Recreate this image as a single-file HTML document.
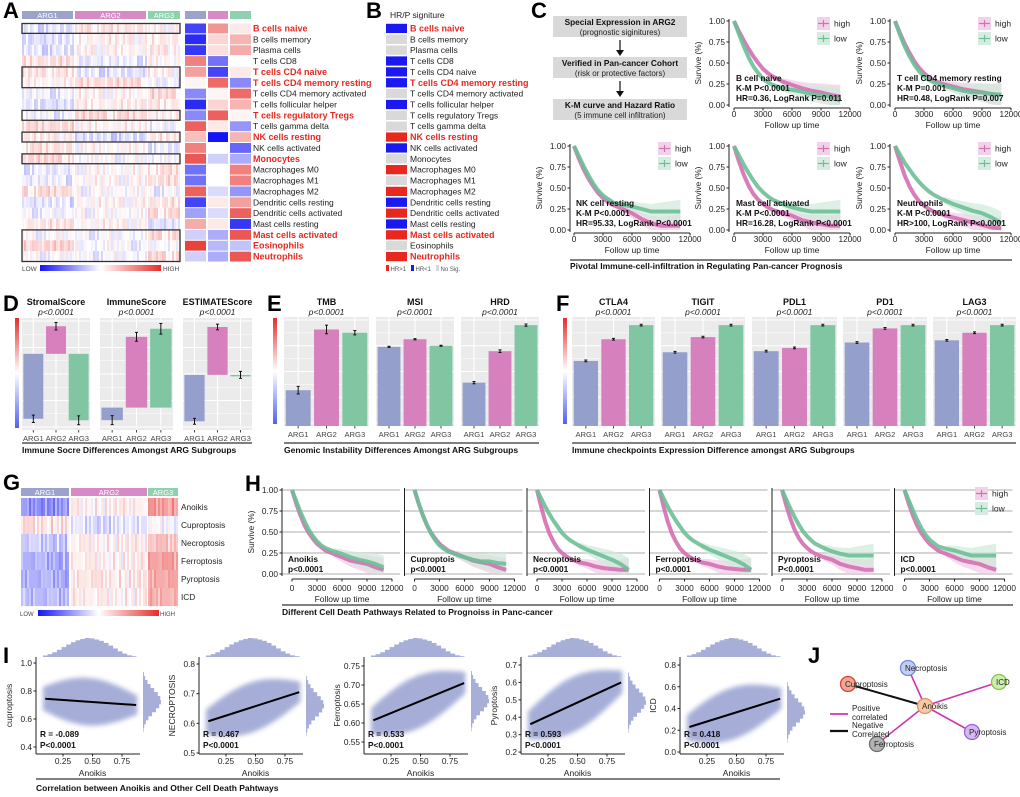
<!DOCTYPE html>
<html><head><meta charset="utf-8">
<style>
body{margin:0;background:#fff;width:1020px;height:797px;overflow:hidden}
svg{font-family:"Liberation Sans",sans-serif;display:block}
</style></head>
<body>
<svg id="fig" width="1020" height="797" viewBox="0 0 1020 797">
<defs>
<linearGradient id="hgrad" x1="0" x2="1" y1="0" y2="0"><stop offset="0" stop-color="#1414f5"/><stop offset="0.5" stop-color="#ffffff"/><stop offset="1" stop-color="#e62d28"/></linearGradient>
<linearGradient id="vgrad" x1="0" x2="0" y1="0" y2="1"><stop offset="0" stop-color="#e62d28"/><stop offset="0.5" stop-color="#ffffff"/><stop offset="1" stop-color="#5060f0"/></linearGradient>
<filter id="blur" x="-20%" y="-20%" width="140%" height="140%"><feGaussianBlur stdDeviation="2.5"/></filter>
</defs>
</svg>
<script>
// ---------- DATA ----------
const immuneCells=["B cells naive","B cells memory","Plasma cells","T cells CD8","T cells CD4 naive","T cells CD4 memory resting","T cells CD4 memory activated","T cells follicular helper","T cells regulatory Tregs","T cells gamma delta","NK cells resting","NK cells activated","Monocytes","Macrophages M0","Macrophages M1","Macrophages M2","Dendritic cells resting","Dendritic cells activated","Mast cells resting","Mast cells activated","Eosinophils","Neutrophils"];
const redLabelsA=[1,0,0,0,1,1,0,0,1,0,1,0,1,0,0,0,0,0,0,1,1,1];
const redLabelsB=[1,0,0,0,0,1,0,0,0,0,1,0,0,0,0,0,0,0,0,1,0,1];
const miniARG1=[-0.8,-0.9,-0.85,0.6,0.45,0.05,-0.5,-0.9,-0.5,0.75,0.3,0.6,0.8,-0.6,-0.6,0.75,-0.8,-0.4,0.4,-0.2,0.9,-0.2];
const miniARG2=[0.5,0.2,0.15,-0.6,-0.8,0.7,0.05,0.2,0.75,0.1,-1,0,-0.2,0,0,-0.15,0.1,-0.15,0.1,-0.35,-0.3,-0.35];
const miniARG3=[0.1,0.35,0.4,0,0.1,-0.5,0.7,0.35,0.05,-0.45,0.35,-0.65,-0.35,0.6,0.6,-0.45,0.45,0.75,-0.85,0.8,-0.25,0.8];
const hrSig=["b","n","n","b","b","b","n","b","n","n","r","b","n","r","n","r","b","r","b","r","n","r"];
const boxedRows=[[0,0],[4,5],[8,8],[10,10],[12,12],[19,21]];
const texture=[0.3,-0.2,0.5,0.1,-0.4,0.2,0.6,-0.1,0.0,0.4,-0.3,0.2,0.7,-0.2,0.1,0.3,-0.5,0.2,0.4,0.0,-0.1,0.5,0.2,-0.3,0.3,0.1,-0.2,0.6,0.0,0.2,-0.4,0.3,0.1,0.5,-0.1,0.2,0.0,0.4,-0.2,0.3];
const argCats=["ARG1","ARG2","ARG3"];
const dTitles=["StromalScore","ImmuneScore","ESTIMATEScore"];
const stromalValues=[-0.85,0.39,-0.87];
const immuneValues=[-0.14,0.79,0.88];
const estimateValues=[-0.78,0.845,0.02];
const dErrors=[0.05,0.05,0.06];
const eTitles=["TMB","MSI","HRD"];
const tmbValues=[0.33,0.89,0.86];
const msiValues=[0.73,0.80,0.74];
const hrdValues=[0.40,0.69,0.93];
const fTitles=["CTLA4","TIGIT","PDL1","PD1","LAG3"];
const ctla4Values=[0.60,0.80,0.93];
const tigitValues=[0.68,0.82,0.93];
const pdl1Values=[0.69,0.72,0.93];
const pd1Values=[0.77,0.90,0.93];
const lag3Values=[0.79,0.86,0.93];
const gPathways=["Anoikis","Cuproptosis","Necroptosis","Ferroptosis","Pyroptosis","ICD"];
const gARG1=[-0.6,0.15,-0.3,-0.45,-0.45,-0.4];
const gARG2=[0.05,-0.2,0.05,0.05,0.1,0.05];
const gARG3=[0.55,-0.05,0.3,0.5,0.45,0.4];
const kmTimes=[0,500,1000,1500,2000,2500,3000,3500,4000,5000,6000,7000,8000,9000,10000,11000];
const kmBnaiveHigh=[1,0.88,0.77,0.67,0.58,0.50,0.43,0.38,0.34,0.28,0.24,0.20,0.17,0.15,0.12,0.10];
const kmBnaiveLow=[1,0.85,0.70,0.57,0.46,0.38,0.31,0.27,0.24,0.20,0.18,0.16,0.13,0.12,0.10,0.05];
const kmCD4High=[1,0.86,0.73,0.62,0.52,0.44,0.38,0.33,0.29,0.25,0.22,0.19,0.17,0.15,0.13,0.12];
const kmCD4Low=[1,0.84,0.70,0.58,0.48,0.40,0.34,0.30,0.27,0.23,0.20,0.17,0.15,0.15,0.13,0.12];
const kmNKHigh=[1,0.85,0.72,0.61,0.52,0.44,0.38,0.33,0.30,0.25,0.20,0.13,0.08,0.05,0.05,0.05];
const kmNKLow=[1,0.88,0.76,0.65,0.55,0.47,0.41,0.37,0.33,0.30,0.28,0.25,0.22,0.22,0.22,0.22];
const kmMastHigh=[1,0.82,0.66,0.53,0.43,0.36,0.31,0.27,0.24,0.20,0.17,0.12,0.09,0.07,0.05,0.05];
const kmMastLow=[1,0.89,0.78,0.68,0.59,0.51,0.45,0.40,0.36,0.31,0.27,0.24,0.22,0.22,0.22,0.22];
const kmNeuHigh=[1,0.82,0.65,0.52,0.42,0.34,0.29,0.25,0.22,0.18,0.15,0.12,0.09,0.06,0.03,0.02];
const kmNeuLow=[1,0.90,0.80,0.72,0.64,0.57,0.51,0.46,0.42,0.36,0.31,0.27,0.23,0.20,0.15,0.08];
const kmSmallHigh=[1,0.84,0.70,0.58,0.49,0.42,0.36,0.32,0.28,0.24,0.20,0.16,0.14,0.12,0.08,0.05];
const kmSmallLow=[1,0.87,0.74,0.63,0.53,0.45,0.39,0.34,0.31,0.27,0.24,0.20,0.17,0.15,0.12,0.08];
const kmBigHigh=[1,0.80,0.62,0.48,0.38,0.30,0.25,0.21,0.18,0.14,0.12,0.09,0.07,0.06,0.05,0.05];
const kmBigLow=[1,0.90,0.80,0.71,0.63,0.56,0.49,0.44,0.40,0.34,0.29,0.25,0.21,0.17,0.12,0.05];
const hTitles=["Anoikis","Cuproptois","Necroptosis","Ferroptosis","Pyroptosis","ICD"];
const hPvals=["p<0.0001","p<0.0001","p<0.0001","p<0.0001","P<0.0001","p<0.0001"];
const scatterYLabels=["cuproptosis","NECROPTOSIS","Ferroptosis","Pyroptosis","ICD"];
const scatterR=["R = -0.089","R = 0.467","R = 0.533","R = 0.593","R = 0.418"];
const regStart=[0.745,0.607,0.607,0.36,0.23];
const regEnd=[0.70,0.705,0.705,0.60,0.49];
const cloudSpread=[0.17,0.085,0.07,0.16,0.24];
const yTicks1=[0.4,0.6,0.8,1.0];
const yTicks2=[0.5,0.6,0.7,0.8];
const yTicks3=[0.55,0.60,0.65,0.70,0.75];
const yTicks4=[0.2,0.3,0.4,0.5,0.6,0.7];
const yTicks5=[0.0,0.2,0.4,0.6,0.8];
const xTicksI=[0.25,0.5,0.75];
const topHist=[0.08,0.15,0.25,0.38,0.52,0.66,0.78,0.88,0.95,1.0,0.98,0.92,0.85,0.74,0.6,0.45,0.3,0.18,0.09,0.04];
const rightHist=[0.05,0.12,0.25,0.42,0.62,0.82,0.96,1.0,0.9,0.72,0.5,0.3,0.16,0.07,0.03];
const netNodes=["Necroptosis","ICD","Cuproptosis","Anoikis","Pyroptosis","Ferroptosis"];
const netEdgeSign=[1,1,-1,1,1];

// ---------- HELPERS ----------
const NS="http://www.w3.org/2000/svg";
const S=document.getElementById("fig");
function E(tag,p,a){const e=document.createElementNS(NS,tag);for(const k in a)e.setAttribute(k,a[k]);p.appendChild(e);return e;}
function T(p,x,y,s,size,a){const e=E("text",p,Object.assign({x:x,y:y,"font-size":size,fill:"#111"},a||{}));e.textContent=s;return e;}
function hcol(v){v=Math.max(-1,Math.min(1,v));let r,g,b;if(v>=0){r=255-25*v;g=255-210*v;b=255-215*v;}else{const t=-v;r=255-235*t;g=255-235*t;b=255-10*t;}return"rgb("+(r|0)+","+(g|0)+","+(b|0)+")";}
const C1="#959fcb",C2="#d680bd",C3="#80c6a2";
const H1="#9ba3cd",H2="#d68bc6",H3="#8fd0ae";
const PINK="#d46fb3",GREEN="#6dbf97";
function letter(x,y,s){const t=T(S,x,y,s,22,{"font-weight":"bold",fill:"#000"});}

// ---------- PANEL A ----------
const gA=E("g",S,{});


letter(3,18,"A");
const rowH=(262-23)/22;
const groupsA=[[22,73,miniARG1,H1,"ARG1"],[75,146,miniARG2,H2,"ARG2"],[148,180,miniARG3,H3,"ARG3"]];
groupsA.forEach((g,gi)=>{
  const hr=E("rect",gA,{x:g[0],y:11,width:g[1]-g[0],height:8,fill:g[3]});
  
  
  T(gA,(g[0]+g[1])/2,18,g[4],7.5,{fill:"#fff","text-anchor":"middle"});
  for(let r=0;r<22;r++){
    for(let x=g[0],c=0;x<g[1];x+=2,c++){
      const v=g[2][r]*0.18+texture[(c*7+r*13)%40]*0.28;
      E("rect",gA,{x:x,y:23+r*rowH,width:2.05,height:rowH+0.1,fill:hcol(v)});
    }
  }
});
boxedRows.forEach(b=>{
  const bx=E("rect",gA,{x:22,y:23+b[0]*rowH+0.5,width:158,height:(b[1]-b[0]+1)*rowH-1,fill:"none",stroke:"#333","stroke-width":1.3});
  
  
});
const miniX=[185,208,230],miniW=[21,20,21],miniH=[H1,H2,H3],miniData=[miniARG1,miniARG2,miniARG3];
for(let k=0;k<3;k++){
  E("rect",gA,{x:miniX[k],y:11,width:miniW[k],height:8,fill:miniH[k]});
  for(let r=0;r<22;r++){
    const c=E("rect",gA,{x:miniX[k],y:23.5+r*rowH,width:miniW[k],height:rowH-1,fill:hcol(miniData[k][r])});
    
    
  }
}
immuneCells.forEach((n,r)=>{
  const t=T(gA,253,23+rowH*(r+0.5)+3,n,8.5,redLabelsA[r]?{fill:"#e8281e","font-weight":"bold","font-size":9}:{fill:"#222"});
  
  
});
T(gA,22,271,"LOW",6.5,{fill:"#444"});
E("rect",gA,{x:40,y:265,width:121,height:6,fill:"url(#hgrad)"});
T(gA,163,271,"HIGH",6.5,{fill:"#444"});

// ---------- PANEL B ----------
const gB=E("g",S,{});


letter(366,18,"B");
T(gB,390,18,"HR/P signiture",8.5,{fill:"#222"});
const sigCol={r:"#e8281e",b:"#1a1af0",n:"#d9d9d9"};
hrSig.forEach((s,r)=>{
  const q=E("rect",gB,{x:386,y:23.8+r*rowH,width:21,height:rowH-1.6,fill:sigCol[s]});
  
  
  T(gB,410,23+rowH*(r+0.5)+3,immuneCells[r],8.5,redLabelsB[r]?{fill:"#e8281e","font-weight":"bold","font-size":9}:{fill:"#222"});
});
[["#e8281e","HR>1",386],["#1a1af0","HR<1",411],["#d9d9d9","No Sig.",436]].forEach(l=>{
  E("rect",gB,{x:l[2],y:265,width:3,height:6,fill:l[0]});T(gB,l[2]+4.5,271,l[1],6,{fill:"#555"});
});

// ---------- PANEL C ----------
const gC=E("g",S,{});


letter(531,18,"C");
[[16,"Special Expression in ARG2","(prognostic siginitures)"],[57,"Verified in Pan-cancer Cohort","(risk or protective factors)"],[99,"K-M curve and Hazard Ratio","(5 immune cell infiltration)"]].forEach((b,i)=>{
  const r=E("rect",gC,{x:553,y:b[0],width:134,height:21,fill:"#d9d9d9"});
  
  
  T(gC,620,b[0]+9,b[1],8.3,{"text-anchor":"middle","font-weight":"bold"});
  T(gC,620,b[0]+19,b[2],8,{"text-anchor":"middle",fill:"#222"});
  if(i<2){E("line",gC,{x1:620,y1:b[0]+24,x2:620,y2:b[0]+36,stroke:"#111","stroke-width":1.2});E("path",gC,{d:`M616,${b[0]+34} L620,${b[0]+40} L624,${b[0]+34}Z`,fill:"#111"});}
});

function kmPlot(parent,ax,x0,x1,top,bot,high,low,texts,opts){
  const X=t=>x0+t/12000*(x1-x0), Y=v=>bot-v*(bot-top);
  const g=E("g",parent,{});
  
  
  if(opts.grid){[0,0.25,0.5,0.75,1].forEach(v=>E("line",g,{x1:ax,x2:opts.gridEnd,y1:Y(v),y2:Y(v),stroke:"#d6d6d6","stroke-width":2}));}
  [[high,PINK,"#f2c9e4"],[low,GREEN,"#cfe9dc"]].forEach(s=>{
    const up=[],dn=[];
    kmTimes.forEach((t,i)=>{if(t>=5000){const w=0.04+(t-5000)/60000;up.push([X(t),Y(Math.min(1,s[0][i]+w))]);dn.push([X(t),Y(Math.max(0,s[0][i]-w))]);}});
    const band="M"+up.map(p=>p.join(",")).join(" L")+" L"+dn.reverse().map(p=>p.join(",")).join(" L")+"Z";
    E("path",g,{d:band,fill:s[2],opacity:0.7});
  });
  [[high,PINK,"high"],[low,GREEN,"low"]].forEach(s=>{
    let d="M"+X(0)+","+Y(s[0][0]);
    for(let i=1;i<kmTimes.length;i++){d+=" L"+X(kmTimes[i])+","+Y(s[0][i]);}
    const thick=E("path",g,{d:d,fill:"none",stroke:s[1],"stroke-width":4,"stroke-linejoin":"round",opacity:0.9});
    
    
  });
  E("line",g,{x1:ax,x2:ax,y1:top-2,y2:bot+2,stroke:"#222","stroke-width":1});
  E("line",g,{x1:x0,x2:x1,y1:bot+(opts.axGap||4),y2:bot+(opts.axGap||4),stroke:"#222","stroke-width":1});
  [0,3000,6000,9000,12000].forEach(t=>{E("line",g,{x1:X(t),x2:X(t),y1:bot+(opts.axGap||4),y2:bot+(opts.axGap||4)+2.5,stroke:"#222"});T(g,X(t),bot+(opts.tickDy||13),String(t),8.3,{"text-anchor":"middle",fill:"#222"});});
  T(g,(x0+x1)/2,bot+(opts.titleDy||24),"Follow up time",8.5,{"text-anchor":"middle",fill:"#222"});
  if(opts.yticks){[0,0.25,0.5,0.75,1].forEach(v=>{E("line",g,{x1:ax-2.5,x2:ax,y1:Y(v),y2:Y(v),stroke:"#222"});T(g,ax-4,Y(v)+3,v.toFixed(2),8.3,{"text-anchor":"end",fill:"#222"});});
    T(g,0,0,"Survive (%)",8.3,{"text-anchor":"middle",fill:"#222",transform:`translate(${ax-28},${(top+bot)/2}) rotate(-90)`});}
  texts.forEach((s,i)=>T(g,opts.textX||x0+2,opts.textY+i*10,s,8.3,{"font-weight":"bold"}));
  if(opts.legend){const lx=opts.legendX,ly=opts.legendY;
    [[PINK,"#f2d2e8","high"],[GREEN,"#d6ece0","low"]].forEach((l,i)=>{
      E("rect",g,{x:lx,y:ly+i*15,width:13,height:13,fill:l[1]});
      E("line",g,{x1:lx+1,x2:lx+12,y1:ly+i*15+6.5,y2:ly+i*15+6.5,stroke:l[0],"stroke-width":1.2});
      E("line",g,{x1:lx+6.5,x2:lx+6.5,y1:ly+i*15+3,y2:ly+i*15+10,stroke:l[0],"stroke-width":1.2});
      const lt=T(g,lx+17,ly+i*15+9.5,l[2],8.5,{fill:"#222"});
      
      
    });}
}
const cPlots=[
 [729,734,850,21,105,kmBnaiveHigh,kmBnaiveLow,["B cell naive","K-M P<0.0001","HR=0.36, LogRank P=0.011"]],
 [890,895,1011,21,105,kmCD4High,kmCD4Low,["T cell CD4 memory resting","K-M P=0.001","HR=0.48, LogRank P=0.007"]],
 [570,574,690,146,230,kmNKHigh,kmNKLow,["NK cell resting","K-M P<0.0001","HR=95.33, LogRank P<0.0001"]],
 [729,734,850,146,230,kmMastHigh,kmMastLow,["Mast cell activated","K-M P<0.0001","HR=16.28, LogRank P<0.0001"]],
 [890,895,1011,146,230,kmNeuHigh,kmNeuLow,["Neutrophils","K-M P<0.0001","HR>100, LogRank P<0.0001"]]];
cPlots.forEach(p=>kmPlot(gC,p[0],p[1],p[2],p[3],p[4],p[5],p[6],p[7],{yticks:true,textY:p[3]+60,legend:true,legendX:p[0]+88,legendY:p[3]-4,axGap:3,tickDy:12,titleDy:23}));
E("line",gC,{x1:570,x2:1012,y1:260,y2:260,stroke:"#555","stroke-width":1.5});
T(gC,570,269,"Pivotal Immune-cell-infiltration in Regulating Pan-cancer Prognosis",8.5,{"font-weight":"bold"});

// ---------- D / E / F BAR PANELS ----------
function barPlot(parent,x0,x1,top,bot,lo,hi,vals,errs,title,base,gridN){
  const g=E("g",parent,{});
  
  
  const Y=v=>bot-(v-lo)/(hi-lo)*(bot-top);
  E("rect",g,{x:x0,y:top,width:x1-x0,height:bot-top,fill:"#ebebeb"});
  for(let i=0;i<=gridN;i++){const y=top+3+i*(bot-top-6)/gridN;E("line",g,{x1:x0,x2:x1,y1:y,y2:y,stroke:"#fff","stroke-width":i%2?0.6:1.1});}
  const sw=(x1-x0)/3;
  T(g,(x0+x1)/2,305,title,9,{"text-anchor":"middle","font-weight":"bold"});
  T(g,(x0+x1)/2,315,"p<0.0001",8.5,{"text-anchor":"middle","font-style":"italic",fill:"#222"});
  vals.forEach((v,i)=>{
    const cx=x0+sw*(i+0.5);
    E("line",g,{x1:cx,x2:cx,y1:top,y2:bot,stroke:"#fff","stroke-width":1.1});
    const yb=Y(base),yv=Y(v);
    const bar=E("rect",g,{x:cx-sw*0.44,y:Math.min(yb,yv),width:sw*0.88,height:Math.max(1.5,Math.abs(yb-yv)),fill:[C1,C2,C3][i]});
    
    
    const e=errs[i];
    E("path",g,{d:`M${cx},${Y(v+e)} V${Y(v-e)} M${cx-1.5},${Y(v+e)} H${cx+1.5} M${cx-1.5},${Y(v-e)} H${cx+1.5}`,stroke:"#111","stroke-width":1,fill:"none"});
    E("line",g,{x1:cx,x2:cx,y1:bot,y2:bot+2.5,stroke:"#444"});
    T(g,cx,bot+11,argCats[i],7.6,{"text-anchor":"middle",fill:"#444"});
  });
}
const gD=E("g",S,{});


letter(3,311,"D");
E("rect",gD,{x:15,y:318,width:4,height:110,fill:"url(#vgrad)"});
barPlot(gD,22,90,318,430,-1,0.5,stromalValues,dErrors,dTitles[0],0.02,8);
barPlot(gD,100,173,318,430,-0.25,1,immuneValues,dErrors,dTitles[1],0,8);
barPlot(gD,183,252,318,430,-0.93,1,estimateValues,dErrors,dTitles[2],0.02,8);
E("line",gD,{x1:22,x2:252,y1:443,y2:443,stroke:"#555","stroke-width":1.5});
T(gD,22,453,"Immune Socre Differences Amongst ARG Subgroups",8.5,{"font-weight":"bold"});

const gE=E("g",S,{});


letter(267,311,"E");
E("rect",gE,{x:273,y:318,width:4,height:106,fill:"url(#vgrad)"});
barPlot(gE,284,369,317,426,0,1.005,tmbValues,[0.035,0.04,0.02],eTitles[0],0,8);
barPlot(gE,376,454,317,426,0,1.005,msiValues,[0.005,0.006,0.005],eTitles[1],0,8);
barPlot(gE,461,539,317,426,0,1.005,hrdValues,[0.01,0.012,0.01],eTitles[2],0,8);
E("line",gE,{x1:284,x2:539,y1:443,y2:443,stroke:"#555","stroke-width":1.5});
T(gE,284,453,"Genomic Instability Differences Amongst ARG Subgroups",8.5,{"font-weight":"bold"});

const gF=E("g",S,{});


letter(556,311,"F");
E("rect",gF,{x:563,y:318,width:4,height:106,fill:"url(#vgrad)"});
const fVals=[ctla4Values,tigitValues,pdl1Values,pd1Values,lag3Values];
[[572,655],[661,745],[752,837],[843,927],[933,1016]].forEach((r,i)=>barPlot(gF,r[0],r[1],317,426,0,1.005,fVals[i],[0.008,0.008,0.008],fTitles[i],0,8));
E("line",gF,{x1:572,x2:1016,y1:443,y2:443,stroke:"#555","stroke-width":1.5});
T(gF,572,453,"Immune checkpoints Expression Difference amongst ARG Subgroups",8.5,{"font-weight":"bold"});

// ---------- PANEL G ----------
const gG=E("g",S,{});


letter(3,490,"G");
const gRowH=18;
[[21,69,gARG1,H1,"ARG1"],[71,147,gARG2,H2,"ARG2"],[148,178,gARG3,H3,"ARG3"]].forEach(g=>{
  E("rect",gG,{x:g[0],y:488,width:g[1]-g[0],height:8,fill:g[3]});
  T(gG,(g[0]+g[1])/2,495,g[4],7.5,{fill:"#fff","text-anchor":"middle"});
  for(let r=0;r<6;r++){
    for(let x=g[0],c=0;x<g[1];x+=2,c++){
      const v=g[2][r]*0.8+texture[(c*11+r*7)%40]*0.3;
      E("rect",gG,{x:x,y:498+r*gRowH,width:2.05,height:gRowH+0.1,fill:hcol(v)});
    }
  }
});
gPathways.forEach((n,r)=>{const t=T(gG,181,498+gRowH*(r+0.5)+3,n,8.3,{fill:"#222"});});
T(gG,20,616,"LOW",6,{fill:"#444"});
E("rect",gG,{x:38,y:610,width:121,height:6,fill:"url(#hgrad)"});
T(gG,160,616,"HIGH",6,{fill:"#444"});

// ---------- PANEL H ----------
const gH=E("g",S,{});


letter(245,491,"H");
const hHigh=[kmSmallHigh,kmSmallHigh,kmBigHigh,kmBigHigh,kmMastHigh,kmSmallHigh];
const hLow=[kmSmallLow,kmCD4Low,kmBigLow,kmBigLow,kmMastLow,kmNKLow];
hTitles.forEach((t,i)=>{
  const ax=282+122.5*i;
  kmPlot(gH,ax,ax+10,ax+110,490,574,hHigh[i],hLow[i],[t,hPvals[i]],{grid:true,gridEnd:ax+118,yticks:i===0,textX:ax+6,textY:562,legend:i===5,legendX:975,legendY:487,axGap:5,tickDy:17,titleDy:28});
});
E("line",gH,{x1:282,x2:1013,y1:605,y2:605,stroke:"#555","stroke-width":1.5});
T(gH,282,615,"Different Cell Death Pathways Related to Prognoiss in Panc-cancer",8.5,{"font-weight":"bold"});

// ---------- PANEL I ----------
const gI=E("g",S,{});


letter(3,663,"I");
const yTickSets=[yTicks1,yTicks2,yTicks3,yTicks4,yTicks5];
const yDom=[[0.35,1.043],[0.4966,0.8236],[0.5184,0.7737],[0.189,0.746],[-0.0184,0.8736]];
const tickFmt=[1,1,2,1,1];
scatterYLabels.forEach((lab,i)=>{
  const ax=[36,199,364,521,680][i],top=657,bot=754;
  const X=v=>ax+27+(v-0.25)*118, Y=v=>bot-(v-yDom[i][0])/(yDom[i][1]-yDom[i][0])*(bot-top);
  const g=E("g",gI,{});
  
  
  const line=x=>regStart[i]+(regEnd[i]-regStart[i])*(x-0.1)/0.77;
  const sp=cloudSpread[i];
  const up=[],dn=[];
  for(let k=0;k<=20;k++){const x=0.08+k*0.04;const taper=Math.sin(Math.PI*Math.min(1,(k+1)/21))*0.6+0.4;up.push(X(x)+","+Y(line(x)+sp*taper));dn.push(X(x)+","+Y(line(x)-sp*taper));}
  const cloud=E("path",g,{d:"M"+up.join(" L")+" L"+dn.reverse().join(" L")+"Z",fill:"#a2aad6",opacity:0.95,filter:"url(#blur)"});
  
  
  const reg=E("line",g,{x1:X(0.1),y1:Y(regStart[i]),x2:X(0.87),y2:Y(regEnd[i]),stroke:"#000","stroke-width":2});
  
  
  E("line",g,{x1:ax,x2:ax,y1:top,y2:bot,stroke:"#222"});
  E("line",g,{x1:ax,x2:ax+104,y1:bot,y2:bot,stroke:"#222"});
  yTickSets[i].forEach(v=>{E("line",g,{x1:ax-2.5,x2:ax,y1:Y(v),y2:Y(v),stroke:"#222"});T(g,ax-4,Y(v)+3,v.toFixed(tickFmt[i]),8.3,{"text-anchor":"end",fill:"#222"});});
  xTicksI.forEach(v=>{E("line",g,{x1:X(v),x2:X(v),y1:bot,y2:bot+2.5,stroke:"#222"});T(g,X(v),bot+10,v.toFixed(2),8.3,{"text-anchor":"middle",fill:"#222"});});
  T(g,X(0.5),bot+22,"Anoikis",8.5,{"text-anchor":"middle",fill:"#222"});
  T(g,0,0,lab,8.5,{"text-anchor":"middle",fill:"#222",transform:`translate(${ax-24},${(top+bot)/2}) rotate(-90)`});
  T(g,ax+4,737,scatterR[i],8.3,{"font-weight":"bold"});
  T(g,ax+4,748,"P<0.0001",8.3,{"font-weight":"bold"});
  const bw=(X(0.87)-X(0.08))/topHist.length;
  topHist.forEach((h,k)=>{const b=E("rect",g,{x:X(0.08)+k*bw,y:657-h*19,width:bw+0.3,height:h*19,fill:"#a7afd8"});});
  const mid=Y(line(0.5)),hh=4;
  rightHist.forEach((h,k)=>{const b=E("rect",g,{x:ax+107,y:mid-rightHist.length*hh/2+k*hh,width:h*18,height:hh+0.3,fill:"#a7afd8"});});
});
E("line",gI,{x1:36,x2:780,y1:779,y2:779,stroke:"#555","stroke-width":1.5});
T(gI,36,791,"Correlation between Anoikis and Other Cell Death Pahtways",8.5,{"font-weight":"bold"});

// ---------- PANEL J ----------
const gJ=E("g",S,{});


letter(808,663,"J");
const nodePos=[[908,668],[999,682],[848,684],[925,706],[972,732],[877,744]];
const nodeFill=["#c2cff2","#cdeeb0","#f2a596","#f7caa4","#d8b8f2","#b4b4b4"];
const nodeStroke=["#6d8ad6","#86c24f","#d4432f","#e09464","#9565d3","#6e6e6e"];
const edgeFrom=[0,1,2,4,5];
edgeFrom.forEach((n,k)=>{
  const ed=E("line",gJ,{x1:nodePos[n][0],y1:nodePos[n][1],x2:nodePos[3][0],y2:nodePos[3][1],stroke:netEdgeSign[k]>0?"#cf35b0":"#111","stroke-width":netEdgeSign[k]>0?1.6:2});
  
  
});
netNodes.forEach((n,k)=>{
  const c=E("circle",gJ,{cx:nodePos[k][0],cy:nodePos[k][1],r:7.5,fill:nodeFill[k],stroke:nodeStroke[k],"stroke-width":1.3});
  
  
  T(gJ,nodePos[k][0]-3,nodePos[k][1]+3,n,8,{fill:"#222"});
});
E("line",gJ,{x1:830,x2:848,y1:714,y2:714,stroke:"#cf35b0","stroke-width":1.8});
T(gJ,852,711,"Positive",8,{fill:"#222"});T(gJ,852,720,"correlated",8,{fill:"#222"});
E("line",gJ,{x1:830,x2:848,y1:731,y2:731,stroke:"#111","stroke-width":2.2});
T(gJ,852,728,"Negative",8,{fill:"#222"});T(gJ,852,737,"Correlated",8,{fill:"#222"});
</script>
</body></html>
